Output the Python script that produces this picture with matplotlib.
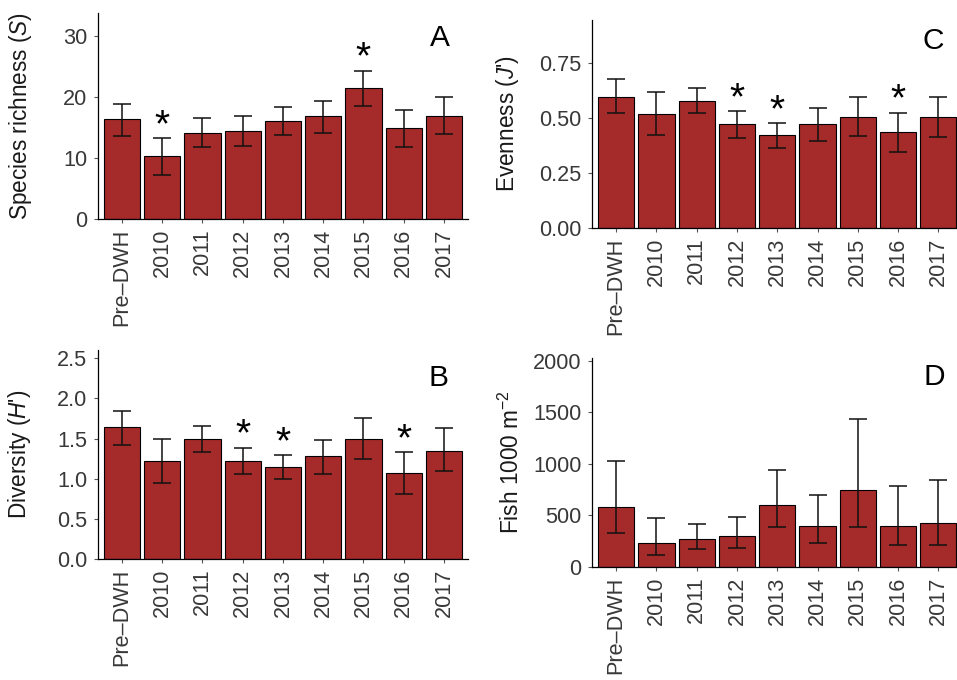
import matplotlib
matplotlib.use("Agg")
import matplotlib.pyplot as plt
import numpy as np

plt.rcParams['font.family'] = ['Liberation Sans', 'DejaVu Sans']
plt.rcParams['mathtext.fontset'] = 'custom'
plt.rcParams['mathtext.rm'] = 'Liberation Sans'
plt.rcParams['mathtext.it'] = 'Liberation Sans:italic'

categories = ['Pre\u2013DWH', '2010', '2011', '2012', '2013', '2014', '2015', '2016', '2017']

# Panel A: species richness
rich_mean = [16.4, 10.3, 14.1, 14.4, 16.1, 16.8, 21.4, 14.9, 16.8]
rich_lo = [13.6, 7.2, 11.8, 12.0, 13.7, 14.1, 18.5, 11.8, 13.9]
rich_hi = [18.9, 13.2, 16.6, 16.8, 18.3, 19.3, 24.3, 17.8, 19.9]
rich_sig = ['2010', '2015']

# Panel B: diversity
div_mean = [1.645, 1.221, 1.495, 1.221, 1.150, 1.279, 1.495, 1.076, 1.350]
div_lo = [1.424, 0.947, 1.329, 1.055, 0.993, 1.055, 1.246, 0.814, 1.096]
div_hi = [1.844, 1.495, 1.661, 1.387, 1.296, 1.483, 1.753, 1.329, 1.628]
div_sig = ['2012', '2013', '2016']

# Panel C: evenness
even_mean = [0.595, 0.517, 0.577, 0.470, 0.421, 0.470, 0.502, 0.435, 0.502]
even_lo = [0.523, 0.421, 0.523, 0.409, 0.364, 0.395, 0.417, 0.342, 0.411]
even_hi = [0.676, 0.618, 0.636, 0.530, 0.474, 0.542, 0.595, 0.523, 0.595]
even_sig = ['2012', '2013', '2016']

# Panel D: fish density
fish_mean = [583, 227, 269, 298, 600, 399, 742, 399, 428]
fish_lo = [331, 113, 169, 185, 382, 230, 382, 214, 214]
fish_hi = [1024, 470, 415, 486, 940, 700, 1439, 785, 840]
fish_sig = []

W, H = 957, 680
fig = plt.figure(figsize=(W / 100, H / 100), dpi=100)

def px_axes(left, right, top, bottom):
    return fig.add_axes([left / W, 1 - bottom / H, (right - left) / W, (bottom - top) / H])

BAR = '#A52A2A'
TICKC = '#383838'

def panel(ax, mean, lo, hi, sig, ylim, yticks, yticklabels, ylabel, letter, letter_xy, label_x):
    x = np.arange(len(categories))
    mean = np.asarray(mean, float)
    lo = np.asarray(lo, float)
    hi = np.asarray(hi, float)
    ax.bar(x, mean, width=0.9, color=BAR, edgecolor='black', linewidth=0.8, zorder=2)
    ax.errorbar(x, mean, yerr=[mean - lo, hi - mean], fmt='none', ecolor='#111111',
                elinewidth=1.1, capsize=6.2, capthick=1.1, zorder=3)
    for c in sig:
        i = categories.index(c)
        ax.text(i, hi[i] + 0.058 * ylim[1], '*', ha='center', va='center',
                fontsize=28, color='black', zorder=4)
    ax.set_xlim(-0.6, len(categories) - 0.4)
    ax.set_ylim(*ylim)
    ax.set_xticks(x)
    ax.set_xticklabels(categories, rotation=90, ha='center', va='top')
    ax.set_yticks(yticks)
    ax.set_yticklabels(yticklabels)
    for s in ['top', 'right']:
        ax.spines[s].set_visible(False)
    for s in ['left', 'bottom']:
        ax.spines[s].set_linewidth(0.9)
        ax.spines[s].set_color('black')
    ax.tick_params(axis='both', length=3.0, width=0.8, color='#555555', labelcolor=TICKC,
                   labelsize=15.6)
    ax.tick_params(axis='x', pad=4.0)
    ax.tick_params(axis='y', pad=4.5)
    ax.set_ylabel(ylabel, fontsize=16.3, color='#1a1a1a')
    ax.yaxis.set_label_coords(label_x, 0.5)
    ax.text(letter_xy[0], letter_xy[1], letter, transform=ax.transAxes, ha='center',
            va='center', fontsize=21.5, color='black')

axA = px_axes(97.7, 468.2, 12.7, 219.0)
panel(axA, rich_mean, rich_lo, rich_hi, rich_sig, (0, 33.77), [0, 10, 20, 30],
      ['0', '10', '20', '30'], 'Species richness ($S$)', 'A', (0.924, 0.879), -0.173)

axC = px_axes(592.0, 962.5, 20.0, 227.7)
panel(axC, even_mean, even_lo, even_hi, even_sig, (0, 0.944), [0, 0.25, 0.5, 0.75],
      ['0.00', '0.25', '0.50', '0.75'], "Evenness ($J$')", 'C', (0.92, 0.899), -0.192)

axB = px_axes(97.7, 468.2, 350.0, 559.0)
panel(axB, div_mean, div_lo, div_hi, div_sig, (0, 2.604), [0, 0.5, 1.0, 1.5, 2.0, 2.5],
      ['0.0', '0.5', '1.0', '1.5', '2.0', '2.5'], "Diversity ($H$')", 'B', (0.921, 0.868), -0.174)

axD = px_axes(592.0, 962.5, 358.3, 566.7)
panel(axD, fish_mean, fish_lo, fish_hi, fish_sig, (0, 2026), [0, 500, 1000, 1500, 2000],
      ['0', '500', '1000', '1500', '2000'], 'Fish 1000 m$^{-2}$', 'D', (0.923, 0.908), -0.184)

fig.savefig('out.png', dpi=100)
